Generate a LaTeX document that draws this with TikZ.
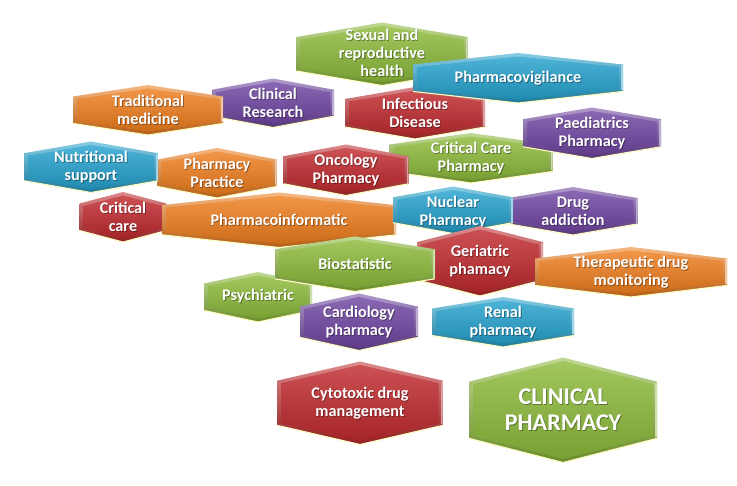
\documentclass[tikz,border=0pt]{standalone}
\usepackage{fontspec}
\setmainfont{Carlito}
\definecolor{cOr}{RGB}{238,126,30}
\definecolor{cGr}{RGB}{140,186,58}
\definecolor{cRd}{RGB}{192,42,46}
\definecolor{cPu}{RGB}{112,70,162}
\definecolor{cCy}{RGB}{38,162,206}
\tikzset{
  lbl/.style={text=white, font=\fontsize{16.2}{18}\selectfont\bfseries, align=center, inner sep=0pt},
  lblshadow/.style={lbl, text=black, text opacity=0.35},
  big/.style={font=\fontsize{24}{26}\selectfont\bfseries},
}
\newcommand{\hexbox}[8]{%
  \begin{scope}[shift={(#2,#3)}]
    \pgfmathsetmacro\hw{#4/2}
    \pgfmathsetmacro\hh{#5/2}
    \pgfmathsetmacro\hs{#5*0.27}
    \pgfmathsetmacro\iw{#4/2-4}
    \pgfmathsetmacro\ih{#5/2-3.5}
    \pgfmathsetmacro\is{#5*0.27-2.5}
    \shade[top color=#6!55!white, bottom color=#6!75!black]
      (-\hw,-\hs) -- (0,-\hh) -- (\hw,-\hs) -- (\hw,\hs) -- (0,\hh) -- (-\hw,\hs) -- cycle;
    \shade[top color=#6!82!white, middle color=#6, bottom color=#6!86!black]
      (-\iw,-\is) -- (0,-\ih) -- (\iw,-\is) -- (\iw,\is) -- (0,\ih) -- (-\iw,\is) -- cycle;
    \draw[white!75!yellow, line width=1.1pt, line join=round]
      (-\hw,\hs) -- (0,\hh) -- (\hw,\hs);
    \draw[#6!45!white, line width=1.4pt] (\hw-1,-\hs+1) -- (\hw-1,\hs-1);
    \node[lblshadow,#7] (#1s) at (0.9,0.9) {#8};
    \node[lbl,#7] (#1) at (0,0) {#8};
  \end{scope}}
\begin{document}
\begin{tikzpicture}[x=1pt,y=-1pt]
\fill[white] (0,0) rectangle (737,486);
\useasboundingbox (0,0) rectangle (737,486);
\hexbox{sexual}{382}{54}{171}{63}{cGr}{yshift=1pt}{Sexual and\\reproductive\\health}
\hexbox{infect}{415}{113}{140}{52}{cRd}{}{Infectious\\Disease}
\hexbox{pv}{518}{78}{210}{50}{cCy}{}{Pharmacovigilance}
\hexbox{clinres}{273}{103}{122}{49}{cPu}{}{Clinical\\Research}
\hexbox{trad}{148}{110}{150}{50}{cOr}{}{Traditional\\medicine}
\hexbox{ccpharm}{471}{158}{163}{50}{cGr}{}{Critical Care\\Pharmacy}
\hexbox{paed}{592}{133}{138}{51}{cPu}{}{Paediatrics\\Pharmacy}
\hexbox{onc}{346}{170}{125}{51}{cRd}{}{Oncology\\Pharmacy}
\hexbox{practice}{217}{173}{119}{50}{cOr}{}{Pharmacy\\Practice}
\hexbox{nutr}{91}{167}{134}{51}{cCy}{}{Nutritional\\support}
\hexbox{critcare}{123}{217}{87}{50}{cRd}{}{Critical\\care}
\hexbox{pinf}{279}{220}{234}{55}{cOr}{}{Pharmacoinformatic}
\hexbox{drug}{573}{211}{129}{48}{cPu}{}{Drug\\addiction}
\hexbox{nuclear}{453}{210}{120}{47}{cCy}{yshift=-2pt}{Nuclear\\Pharmacy}
\hexbox{geri}{480}{261}{126}{70}{cRd}{}{Geriatric\\phamacy}
\hexbox{psych}{258}{297}{108}{50}{cGr}{yshift=1pt}{Psychiatric}
\hexbox{bio}{355}{264}{160}{55}{cGr}{}{Biostatistic}
\hexbox{thera}{631}{272}{192}{50}{cOr}{}{Therapeutic drug\\monitoring}
\hexbox{cardio}{359}{322}{118}{57}{cPu}{}{Cardiology\\pharmacy}
\hexbox{renal}{503}{322}{142}{50}{cCy}{}{Renal\\pharmacy}
\hexbox{cyto}{360}{403}{165}{83}{cRd}{}{Cytotoxic drug\\management}
\hexbox{clin}{563}{410}{188}{105}{cGr}{big}{CLINICAL\\PHARMACY}
\end{tikzpicture}
\end{document}
